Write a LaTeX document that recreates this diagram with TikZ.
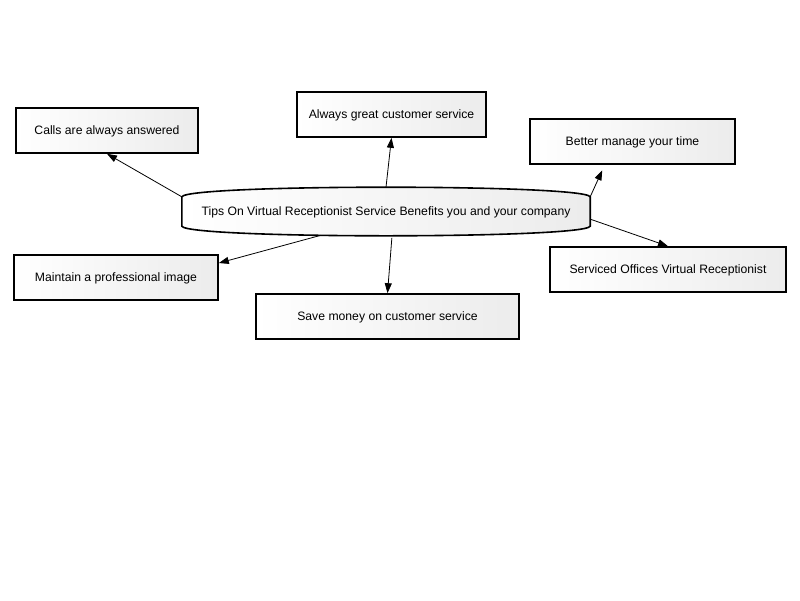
\documentclass[tikz,border=0pt]{standalone}
\usepackage{fontspec}
\setmainfont{Liberation Sans}
\usepackage{tikz}
\usetikzlibrary{arrows.meta}
\usetikzlibrary{shadows}
\usetikzlibrary{backgrounds}

\tikzset{
    tipbox/.style={draw,line width=1.6pt,left color=white,right color=gray!15,
        minimum height=45pt,inner sep=0pt,text depth=0pt,
        drop shadow={shadow xshift=1.2pt,shadow yshift=-1.2pt,fill=gray!80,opacity=1},
        font=\fontsize{12.2}{14}\selectfont},
    conn/.style={-{Triangle[length=10pt,width=7pt]},line width=0.8pt}
}

\begin{document}
\begin{tikzpicture}[x=1pt,y=-1pt]
    \useasboundingbox (0,0) rectangle (800,600);
    \node [minimum width=408pt,minimum height=29pt,inner sep=0pt,text depth=0pt,
        font=\fontsize{12.2}{14}\selectfont] (tips) at (386,211.5)
        {Tips On Virtual Receptionist Service Benefits you and your company};
    \begin{scope}[on background layer]
        \draw [line width=1.6pt,left color=white,right color=gray!15]
            (tips.north west) .. controls (188,184) and (584,184) .. coordinate[pos=.5] (tipstop) (tips.north east)
            -- coordinate[pos=.76] (tipsright) (tips.south east)
            .. controls (584,239) and (188,239) .. coordinate[pos=.49] (tipsbot) coordinate[pos=.61] (tipsbotl) (tips.south west)
            -- cycle;
    \end{scope}
    \node [tipbox,minimum width=182pt] (calls) at (107,130.5) {Calls are always answered};
    \node [tipbox,minimum width=189pt] (always) at (391.5,114.5) {Always great customer service};
    \node [tipbox,minimum width=205pt] (better) at (632.5,141.5) {Better manage your time};
    \node [tipbox,minimum width=204pt] (image) at (116,277.5) {Maintain a professional image};
    \node [tipbox,minimum width=263pt] (money) at (387.5,316.5) {Save money on customer service};
    \node [tipbox,minimum width=236pt] (offices) at (668,269.5) {Serviced Offices Virtual Receptionist};
    \path[conn]
        (tips.north west) edge (calls.south)
        (tipstop) edge (always.south)
        (tips.north east) edge [shorten >=6pt] (better.220)
        (tipsright) edge (offices.north)
        (tipsbotl) edge (image.8)
        (tipsbot) edge [shorten <=2pt] (money.north);
\end{tikzpicture}
\end{document}
